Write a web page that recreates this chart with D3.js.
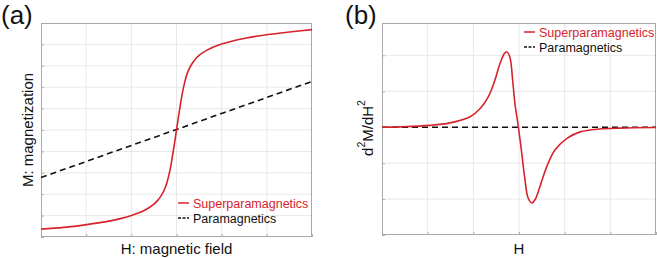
<!DOCTYPE html>
<html>
<head>
<meta charset="utf-8">
<script src="https://cdn.jsdelivr.net/npm/d3@7"></script>
<style>
  body { margin: 0; background: #fff; }
  svg { display: block; font-family: "Liberation Sans", Arial, Helvetica, sans-serif; }
</style>
</head>
<body>
<div id="chart"></div>
<script>
// panel (a): magnetization vs field
const hA = [-3, -2.5, -1.99, -1.55, -1.22, -1.0, -0.82, -0.664, -0.52, -0.421, -0.332, -0.244, -0.184, -0.133, -0.095, -0.044,
  0, 0.044, 0.095, 0.133, 0.184, 0.244, 0.332, 0.421, 0.52, 0.664, 0.82, 1.0, 1.22, 1.55, 1.99, 2.5, 3];
const mSuper = [-4.63, -4.55, -4.42, -4.28, -4.13, -4.0, -3.86, -3.70, -3.50, -3.30, -3.04, -2.66, -2.24, -1.76, -1.29, -0.62,
  0, 0.62, 1.30, 1.76, 2.25, 2.68, 3.06, 3.32, 3.52, 3.72, 3.88, 4.02, 4.15, 4.30, 4.45, 4.58, 4.69];
const hParaA = [-3, 3];
const mPara = [-2.22, 2.27];

// panel (b): second derivative
const hB = [-3, -2.61, -1.95, -1.51, -1.07, -0.85, -0.67, -0.53, -0.42, -0.32, -0.27, -0.20, -0.14, -0.09, -0.015,
  0.06, 0.13, 0.20, 0.28, 0.35, 0.46, 0.61, 0.79, 1.05, 1.34, 1.77, 2.21, 3];
const d2Super = [0, 0.01, 0.05, 0.12, 0.29, 0.52, 0.85, 1.30, 1.76, 2.05, 2.10, 1.95, 1.32, 0.67, 0.02,
  -0.72, -1.46, -1.97, -2.11, -2.02, -1.65, -1.09, -0.63, -0.31, -0.13, -0.05, -0.025, -0.01];
const hParaB = [-3, 3];
const d2Para = [0, 0];

const xTicks = [-3, -2, -1, 0, 1, 2, 3];
const yTicksA = [-5, -4, -3, -2, -1, 0, 1, 2, 3, 4, 5];
const yTicksB = [-3, -2, -1, 0, 1, 2];

const legendNames = ['Superparamagnetics', 'Paramagnetics'];

const red = '#d7232b';

const svg = d3.select('#chart').append('svg')
  .attr('width', 657)
  .attr('height', 258);

const drawPanel = (opt) => {
  const x = d3.scaleLinear().domain([-3, 3]).range([opt.left, opt.right]);
  const y = d3.scaleLinear().domain(opt.yDomain).range([opt.bottom, opt.top]);
  const g = svg.append('g');

  // grid
  g.selectAll('.vg').data(xTicks.slice(1, -1)).join('line')
    .attr('x1', d => x(d)).attr('x2', d => x(d))
    .attr('y1', opt.top).attr('y2', opt.bottom)
    .attr('stroke', '#e8e8e8').attr('stroke-width', 1);
  g.selectAll('.hg').data(opt.yTicks.filter(d => y(d) > opt.top + 1 && y(d) < opt.bottom - 1)).join('line')
    .attr('x1', opt.left).attr('x2', opt.right)
    .attr('y1', d => y(d)).attr('y2', d => y(d))
    .attr('stroke', '#e8e8e8').attr('stroke-width', 1);

  // inner ticks
  g.append('g')
    .attr('transform', `translate(0,${opt.bottom})`)
    .call(d3.axisBottom(x).tickValues(xTicks).tickSize(-3).tickFormat(''))
    .call(a => a.select('.domain').remove())
    .call(a => a.selectAll('line').attr('stroke', '#b0b0b0'));
  g.append('g')
    .attr('transform', `translate(${opt.left},0)`)
    .call(d3.axisLeft(y).tickValues(opt.yTicks).tickSize(-3).tickFormat(''))
    .call(a => a.select('.domain').remove())
    .call(a => a.selectAll('line').attr('stroke', '#b0b0b0'));

  // box
  g.append('rect')
    .attr('x', opt.left + 0.5).attr('y', opt.top + 0.5)
    .attr('width', opt.right - opt.left - 1).attr('height', opt.bottom - opt.top - 1)
    .attr('fill', 'none').attr('stroke', '#a8a8a8').attr('stroke-width', 1);

  const line = d3.line().x(d => x(d[0])).y(d => y(d[1])).curve(d3.curveCatmullRom.alpha(0.5));

  g.append('path')
    .datum(d3.zip(opt.paraX, opt.paraY))
    .attr('d', line)
    .attr('fill', 'none').attr('stroke', '#111').attr('stroke-width', 1.6)
    .attr('stroke-dasharray', '6,4');
  g.append('path')
    .datum(d3.zip(opt.superX, opt.superY))
    .attr('d', line)
    .attr('fill', 'none').attr('stroke', red).attr('stroke-width', 1.6);

  // legend
  const lg = g.append('g').attr('transform', `translate(${opt.legX},${opt.legY})`);
  lg.append('line').attr('x1', 0).attr('x2', 11).attr('y1', 0).attr('y2', 0)
    .attr('stroke', red).attr('stroke-width', 1.5);
  lg.append('line').attr('x1', 0).attr('x2', 11).attr('y1', 15).attr('y2', 15)
    .attr('stroke', '#111').attr('stroke-width', 1.3).attr('stroke-dasharray', '3,1.5');
  lg.selectAll('text').data(legendNames).join('text')
    .attr('x', 15).attr('y', (d, i) => i * 15 + 4.5)
    .attr('font-size', 12.5)
    .attr('fill', (d, i) => i === 0 ? red : '#111')
    .text(d => d);

  // panel tag
  svg.append('text').attr('x', opt.tagX).attr('y', 24)
    .attr('font-size', 26).attr('fill', '#111').text(opt.tag);

  // x label
  svg.append('text').attr('x', (opt.left + opt.right) / 2).attr('y', 254)
    .attr('text-anchor', 'middle').attr('font-size', 15).attr('fill', '#111')
    .text(opt.xLabel);

  return {x, y};
};

drawPanel({
  left: 41, right: 312, top: 23, bottom: 237,
  yDomain: [-5, 5], yTicks: yTicksA,
  superX: hA, superY: mSuper, paraX: hParaA, paraY: mPara,
  legX: 178, legY: 203, tag: '(a)', tagX: 1, xLabel: 'H: magnetic field'
});

drawPanel({
  left: 382, right: 656, top: 23, bottom: 235,
  yDomain: [-3, 2.9], yTicks: yTicksB,
  superX: hB, superY: d2Super, paraX: hParaB, paraY: d2Para,
  legX: 524, legY: 32, tag: '(b)', tagX: 345, xLabel: 'H'
});

// y labels
svg.append('text')
  .attr('transform', 'translate(33,130) rotate(-90)')
  .attr('text-anchor', 'middle').attr('font-size', 15).attr('fill', '#111')
  .text('M: magnetization');

const yl = svg.append('text')
  .attr('transform', 'translate(373,128) rotate(-90)')
  .attr('text-anchor', 'middle').attr('font-size', 15).attr('fill', '#111');
yl.append('tspan').text('d');
yl.append('tspan').attr('font-size', 10.5).attr('dy', -8).text('2');
yl.append('tspan').attr('dy', 8).text('M/dH');
yl.append('tspan').attr('font-size', 10.5).attr('dy', -8).text('2');
</script>
</body>
</html>
